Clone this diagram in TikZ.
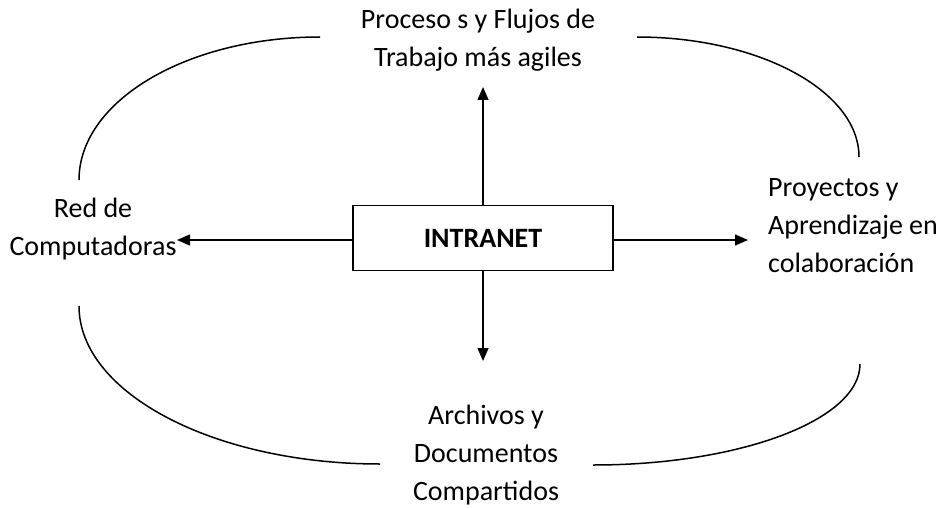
\documentclass[tikz,border=0pt]{standalone}
\usepackage{fontspec}
\setmainfont{Carlito}
\usetikzlibrary{arrows.meta}
\begin{document}
\begin{tikzpicture}[x=1pt,y=-1pt,
  lbl/.style={font=\fontsize{28}{38}\selectfont, inner sep=0pt, align=center},
  lblleft/.style={font=\fontsize{28}{38}\selectfont, inner sep=0pt, align=left, anchor=west},
  box/.style={draw, line width=1.5pt, minimum width=260pt, minimum height=65pt, inner sep=0pt, font=\fontsize{28}{32}\selectfont\bfseries},
  arr/.style={line width=1.4pt, -{Triangle[length=13pt,width=11pt]}},
  curve/.style={line width=1.5pt}]
\useasboundingbox (0,0) rectangle (942,508);
\node[box] (intranet) at (483,238) {INTRANET};
\node[lbl] (top) at (478,40) {Proceso s y Flujos de\\Trabajo más agiles};
\node[lbl] (left) at (93,229) {Red de\\Computadoras};
\node[lblleft] (right) at (768,226) {Proyectos y\\Aprendizaje en\\colaboración};
\node[lbl] (bottom) at (486,455) {Archivos y\\Documentos\\Compartidos};
\coordinate (tipT) at (483,87);
\coordinate (tipB) at (483,361);
\coordinate (tipL) at (177,240);
\coordinate (tipR) at (748,240);
\draw[arr] (intranet.north) -- (tipT);
\draw[arr] (intranet.south) -- (tipB);
\draw[arr] (intranet.west |- tipL) -- (tipL);
\draw[arr] (intranet.east |- tipR) -- (tipR);
\coordinate (a1) at (79,180); \coordinate (a2) at (320,37);
\coordinate (b1) at (637,37); \coordinate (b2) at (859,157);
\coordinate (c1) at (79,306); \coordinate (c2) at (380,464);
\coordinate (d1) at (593,465); \coordinate (d2) at (860,364);
\draw[curve] (a1) .. controls (79,101) and (187,37) .. (a2);
\draw[curve] (b1) .. controls (759,37) and (859,91) .. (b2);
\draw[curve] (c1) .. controls (79,393) and (214,464) .. (c2);
\draw[curve] (d1) .. controls (740,465) and (860,420) .. (d2);
\end{tikzpicture}
\end{document}
